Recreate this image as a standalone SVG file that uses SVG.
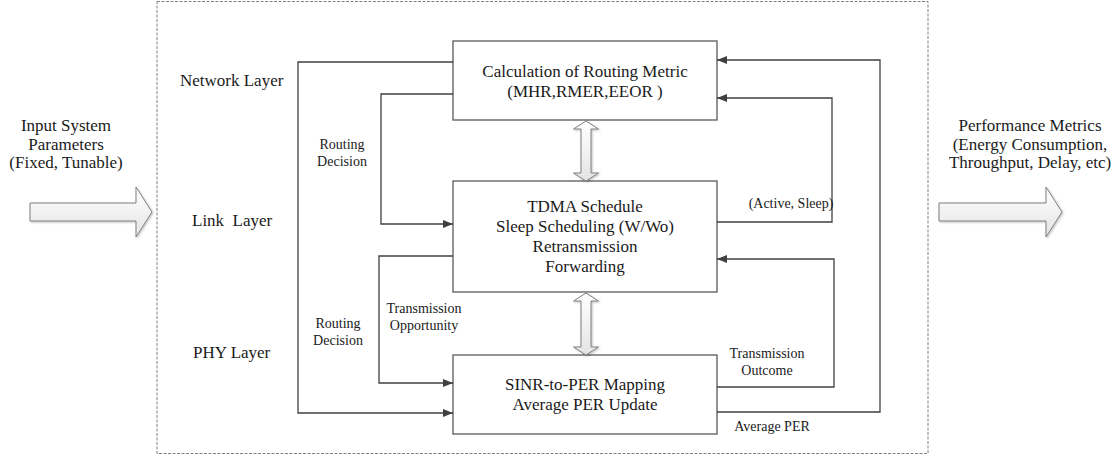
<svg xmlns="http://www.w3.org/2000/svg" width="1120" height="459" viewBox="0 0 1120 459">
  <style>
    .lbl { font-family: "Liberation Serif", "Times New Roman", serif; fill: #1a1a1a; }
    .big { font-size: 17px; text-anchor: middle; }
    .layer { font-size: 17px; }
    .small { font-size: 14px; text-anchor: middle; }
    .box { fill: #ffffff; stroke: #595959; stroke-width: 1.3; }
    .wire { fill: none; stroke: #404040; stroke-width: 1.3; }
    .fat { fill: url(#fatFill); stroke: #7f7f7f; stroke-width: 1; filter: url(#soft); }
  </style>
  <defs>
    <marker id="head" markerUnits="userSpaceOnUse" markerWidth="10" markerHeight="8" refX="10" refY="4" orient="auto">
      <path d="M0,0 L10,4 L0,8 z" fill="#404040"/>
    </marker>
    <linearGradient id="fatFill" x1="0" y1="0" x2="0" y2="1">
      <stop offset="0" stop-color="#ffffff"/>
      <stop offset="1" stop-color="#e4e4e4"/>
    </linearGradient>
    <filter id="soft" x="-20%" y="-20%" width="140%" height="140%">
      <feDropShadow dx="1" dy="1" stdDeviation="1" flood-color="#000" flood-opacity="0.25"/>
    </filter>
  </defs>

  <rect width="1120" height="459" fill="#ffffff"/>

  <!-- dashed frame around the protocol stack -->
  <rect id="stack-frame" x="157" y="1.5" width="771" height="452" fill="none" stroke="#808080" stroke-width="1" stroke-dasharray="3,1.5"/>

  <!-- input side -->
  <g id="input">
    <text class="lbl big" x="66" y="131">Input System</text>
    <text class="lbl big" x="66" y="150">Parameters</text>
    <text class="lbl big" x="66" y="168">(Fixed, Tunable)</text>
    <polygon class="fat" points="30,203 136,203 136,187 152,212 136,237 136,221 30,221"/>
  </g>

  <!-- output side -->
  <g id="output">
    <text class="lbl big" x="1030" y="131">Performance Metrics</text>
    <text class="lbl big" x="1030" y="150">(Energy Consumption,</text>
    <text class="lbl big" x="1030" y="168">Throughput, Delay, etc)</text>
    <polygon class="fat" points="939,203 1046,203 1046,187 1062,212 1046,237 1046,221 939,221"/>
  </g>

  <!-- layer names -->
  <g id="layers">
    <text class="lbl layer" x="180" y="86">Network Layer</text>
    <text class="lbl layer" x="192" y="226" xml:space="preserve">Link  Layer</text>
    <text class="lbl layer" x="193" y="358">PHY Layer</text>
  </g>

  <!-- network layer block -->
  <g id="routing-metric">
    <rect class="box" x="453" y="41" width="264" height="79"/>
    <text class="lbl big" x="585" y="77">Calculation of Routing Metric</text>
    <text class="lbl big" x="585" y="97">(MHR,RMER,EEOR )</text>
  </g>

  <!-- link layer block -->
  <g id="tdma">
    <rect class="box" x="453" y="181" width="264" height="111"/>
    <text class="lbl big" x="585" y="212">TDMA Schedule</text>
    <text class="lbl big" x="585" y="232">Sleep Scheduling (W/Wo)</text>
    <text class="lbl big" x="585" y="252">Retransmission</text>
    <text class="lbl big" x="585" y="272">Forwarding</text>
  </g>

  <!-- PHY layer block -->
  <g id="sinr-per">
    <rect class="box" x="453" y="355" width="264" height="79"/>
    <text class="lbl big" x="585" y="390">SINR-to-PER Mapping</text>
    <text class="lbl big" x="585" y="410">Average PER Update</text>
  </g>

  <!-- connectors -->
  <g id="connectors">
    <!-- two-way exchange between layers -->
    <polygon class="fat" points="586,121 598.5,129 591,129 591,173 598.5,173 586,181 573.5,173 581,173 581,129 573.5,129"/>
    <polygon class="fat" points="586,293 598.5,301 591,301 591,347 598.5,347 586,355 573.5,347 581,347 581,301 573.5,301"/>

    <!-- routing decision: network layer down to PHY -->
    <polyline class="wire" points="453,62 298,62 298,413 453,413" marker-end="url(#head)"/>
    <!-- routing decision: network layer down to link -->
    <polyline class="wire" points="453,94 381,94 381,224 453,224" marker-end="url(#head)"/>
    <!-- transmission opportunity: link down to PHY -->
    <polyline class="wire" points="453,256 379,256 379,383 453,383" marker-end="url(#head)"/>

    <!-- average PER back to network layer -->
    <polyline class="wire" points="717,412 880,412 880,60 717,60" marker-end="url(#head)"/>
    <!-- (active, sleep) back to network layer -->
    <polyline class="wire" points="717,222 832,222 832,98 717,98" marker-end="url(#head)"/>
    <!-- transmission outcome back to link layer -->
    <polyline class="wire" points="717,387 834,387 834,259 717,259" marker-end="url(#head)"/>

    <text class="lbl small" x="342" y="149">Routing</text>
    <text class="lbl small" x="342" y="166">Decision</text>
    <text class="lbl small" x="338" y="328">Routing</text>
    <text class="lbl small" x="338" y="345">Decision</text>
    <text class="lbl small" x="424" y="313">Transmission</text>
    <text class="lbl small" x="424" y="330">Opportunity</text>
    <text class="lbl small" x="791" y="208">(Active, Sleep)</text>
    <text class="lbl small" x="767" y="358">Transmission</text>
    <text class="lbl small" x="767" y="375">Outcome</text>
    <text class="lbl small" x="772" y="431">Average PER</text>
  </g>
</svg>
